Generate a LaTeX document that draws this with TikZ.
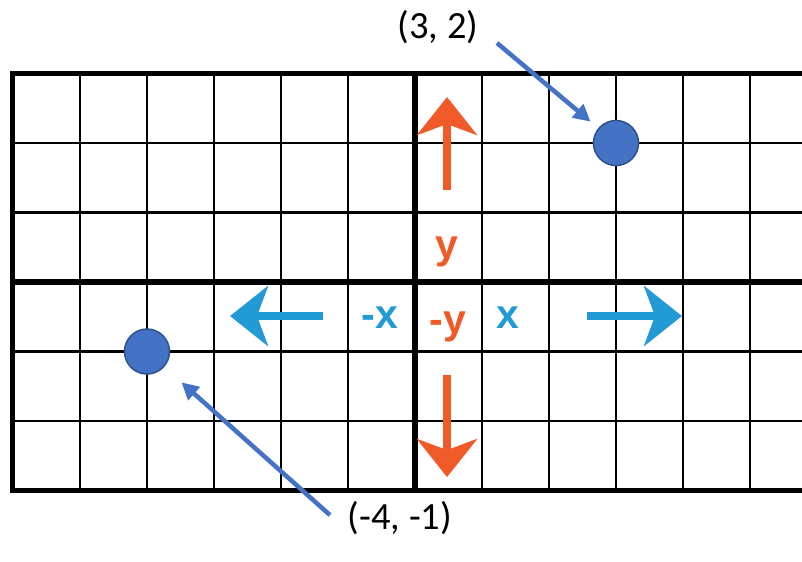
\documentclass[tikz,border=0pt]{standalone}
\usepackage{fontspec}
\setmainfont{Carlito}
\newfontfamily\axisfont{Liberation Sans}
\usetikzlibrary{arrows.meta}

\definecolor{ptblue}{HTML}{4472C4}
\definecolor{ptedge}{HTML}{2F528F}
\definecolor{axblue}{HTML}{229AD6}
\definecolor{axorange}{HTML}{EF5A28}

\tikzset{
  gridline/.style={line width=2.7pt},
  gridpoint/.style={circle,fill=ptblue,draw=ptedge,line width=1.5pt,minimum size=45pt,inner sep=0pt},
  ptarrow/.style={ptblue,line width=4.5pt,-{Triangle[length=17pt,width=17pt]}},
  dirarrow/.style={line width=8pt,-{Stealth[length=38pt,width=60pt,inset=11pt]}},
  axlabel/.style={font=\axisfont\bfseries\fontsize{41}{41}\selectfont,anchor=base,inner sep=0pt},
  coordlabel/.style={font=\fontsize{38.5}{40}\selectfont,inner sep=2pt}
}

\begin{document}
\begin{tikzpicture}[x=67pt,y=69.5pt]
\useasboundingbox (-6.194,-4.014) rectangle (5.776,4.058);
\clip (-6.194,-4.014) rectangle (5.776,4.058);
% grid
\foreach \x in {-5,...,5} \draw[gridline] (\x,-3) -- (\x,3);
\foreach \y in {-2,...,2} \draw[gridline] (-6,\y) -- (6,\y);
\draw[line width=5.5pt] (0,-3) -- (0,3) (-6,0) -- (6,0);
\draw[line width=5pt] (-6,-3) rectangle (6,3);

% direction arrows
\draw[dirarrow,axorange] (0.478,1.324) -- (0.478,2.662);
\draw[dirarrow,axorange] (0.478,-1.338) -- (0.478,-2.806);
\draw[dirarrow,axblue] (-1.373,-0.489) -- (-2.761,-0.489);
\draw[dirarrow,axblue] (2.567,-0.489) -- (3.985,-0.489);
\node[axlabel,axorange] (ylab) at (0.478,0.345) {y};
\node[axlabel,axorange] (nylab) at (0.49,-0.734) {-y};
\node[axlabel,axblue] (nxlab) at (-0.522,-0.662) {-x};
\node[axlabel,axblue] (xlab) at (1.388,-0.662) {x};

% points and their labels
\node[gridpoint] (ptA) at (3,2) {};
\node[gridpoint] (ptB) at (-4,-1) {};
\node[coordlabel] (labA) at (0.343,3.669) {(3, 2)};
\node[coordlabel] (labB) at (-0.224,-3.396) {(-4, -1)};
\coordinate (tailA) at (1.224,3.439);
\coordinate (tailB) at (-1.269,-3.353);
\draw[ptarrow,shorten >=10pt] (tailA) -- (ptA);
\draw[ptarrow,shorten >=23pt] (tailB) -- (ptB);
\end{tikzpicture}
\end{document}
